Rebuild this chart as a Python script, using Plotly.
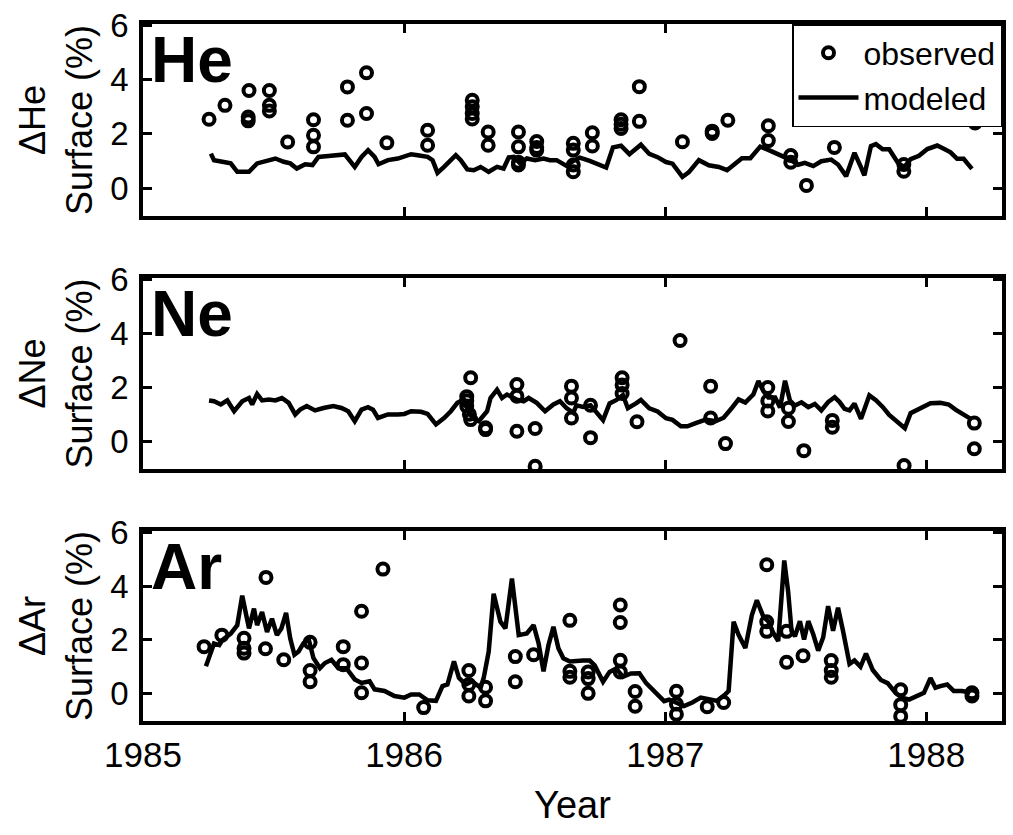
import plotly.graph_objects as go
from plotly.subplots import make_subplots

# ---------------- data ----------------
he_obs_year = [1985.253, 1985.314, 1985.406, 1985.403, 1985.403, 1985.484, 1985.484, 1985.484,
               1985.554, 1985.653, 1985.653, 1985.653, 1985.783, 1985.783, 1985.856, 1985.856,
               1985.934, 1986.090, 1986.090, 1986.261, 1986.261, 1986.261, 1986.261, 1986.322,
               1986.322, 1986.438, 1986.438, 1986.438, 1986.438, 1986.508, 1986.508, 1986.508,
               1986.648, 1986.648, 1986.648, 1986.648, 1986.721, 1986.721, 1986.831, 1986.831,
               1986.831, 1986.901, 1986.901, 1987.066, 1987.180, 1987.180, 1987.240, 1987.395,
               1987.395, 1987.481, 1987.481, 1987.541, 1987.648, 1987.914, 1987.914, 1988.187]
he_obs_val = [2.54, 3.05, 3.60, 2.62, 2.48, 3.60, 3.05, 2.84,
              1.70, 2.52, 1.95, 1.52, 3.73, 2.50, 4.25, 2.75,
              1.67, 2.13, 1.58, 3.24, 3.00, 2.75, 2.55, 2.07,
              1.58, 2.07, 1.52, 0.95, 0.85, 1.72, 1.50, 1.40,
              1.65, 1.40, 0.85, 0.60, 2.04, 1.55, 2.52, 2.35,
              2.20, 3.74, 2.46, 1.71, 2.10, 2.01, 2.50, 2.30,
              1.75, 1.20, 0.95, 0.10, 1.50, 0.87, 0.62, 2.40]

he_mod_year = [1985.260, 1985.272, 1985.304, 1985.336, 1985.361, 1985.406, 1985.437, 1985.463,
               1985.482, 1985.507, 1985.539, 1985.564, 1985.589, 1985.621, 1985.649, 1985.672,
               1985.710, 1985.748, 1985.773, 1985.811, 1985.837, 1985.862, 1985.887, 1985.902,
               1985.938, 1985.976, 1986.001, 1986.027, 1986.052, 1986.090, 1986.109, 1986.128,
               1986.153, 1986.179, 1986.198, 1986.217, 1986.242, 1986.267, 1986.293, 1986.324,
               1986.356, 1986.381, 1986.401, 1986.420, 1986.445, 1986.470, 1986.502, 1986.534,
               1986.559, 1986.584, 1986.622, 1986.648, 1986.673, 1986.711, 1986.743, 1986.774,
               1986.800, 1986.831, 1986.863, 1986.907, 1986.939, 1986.971, 1987.003, 1987.028,
               1987.066, 1987.091, 1987.129, 1987.167, 1987.205, 1987.237, 1987.269, 1987.294,
               1987.326, 1987.364, 1987.395, 1987.421, 1987.446, 1987.478, 1987.509, 1987.535,
               1987.567, 1987.598, 1987.636, 1987.662, 1987.693, 1987.725, 1987.748, 1987.763,
               1987.788, 1987.807, 1987.833, 1987.858, 1987.890, 1987.915, 1987.940, 1987.972,
               1988.004, 1988.042, 1988.067, 1988.093, 1988.118, 1988.143, 1988.175]
he_mod_val = [1.27, 1.03, 0.97, 0.91, 0.60, 0.60, 0.91, 0.97,
              1.03, 1.09, 0.97, 0.91, 0.72, 0.88, 0.85, 1.15,
              1.18, 1.21, 1.24, 0.78, 1.15, 1.40, 1.15, 0.88,
              1.03, 1.09, 1.18, 1.25, 1.21, 1.15, 1.03, 0.56,
              0.78, 1.03, 1.21, 1.03, 0.69, 0.66, 0.78, 0.60,
              0.78, 0.72, 1.13, 1.15, 0.91, 1.09, 1.03, 1.09,
              1.03, 1.03, 0.82, 1.00, 1.12, 1.00, 0.88, 0.76,
              1.50, 1.56, 1.25, 1.60, 1.26, 1.14, 0.96, 0.90,
              0.41, 0.59, 1.03, 0.84, 0.78, 0.66, 0.91, 1.10,
              1.10, 1.53, 1.41, 1.29, 1.17, 1.05, 0.86, 0.93,
              0.81, 0.99, 1.05, 0.87, 0.44, 1.30, 0.81, 0.47,
              1.55, 1.62, 1.43, 1.43, 0.95, 0.76, 1.07, 1.19,
              1.44, 1.57, 1.45, 1.32, 1.08, 1.08, 0.71]

ne_obs_year = [1986.255, 1986.240, 1986.240, 1986.240, 1986.250, 1986.255, 1986.312, 1986.312,
               1986.432, 1986.432, 1986.432, 1986.502, 1986.502, 1986.641, 1986.641, 1986.641,
               1986.714, 1986.714, 1986.835, 1986.835, 1986.835, 1986.892, 1987.057, 1987.174,
               1987.174, 1987.231, 1987.393, 1987.393, 1987.393, 1987.472, 1987.472, 1987.531,
               1987.640, 1987.640, 1987.915, 1988.184, 1988.184]
ne_obs_val = [2.35, 1.65, 1.50, 1.30, 1.00, 0.80, 0.50, 0.43,
              2.10, 1.67, 0.37, 0.47, -0.93, 2.04, 1.60, 0.86,
              1.33, 0.13, 2.35, 2.08, 1.77, 0.72, 3.73, 2.04,
              0.86, -0.09, 1.99, 1.49, 1.12, 1.22, 0.73, -0.35,
              0.77, 0.52, -0.90, 0.67, -0.28]

ne_mod_year = [1985.253, 1985.272, 1985.298, 1985.323, 1985.349, 1985.380, 1985.406, 1985.418,
               1985.437, 1985.456, 1985.482, 1985.507, 1985.532, 1985.558, 1985.583, 1985.602,
               1985.627, 1985.659, 1985.691, 1985.729, 1985.760, 1985.786, 1985.811, 1985.837,
               1985.862, 1985.881, 1985.900, 1985.938, 1985.976, 1986.001, 1986.027, 1986.065,
               1986.090, 1986.122, 1986.153, 1986.179, 1986.204, 1986.229, 1986.261, 1986.286,
               1986.318, 1986.331, 1986.356, 1986.375, 1986.394, 1986.432, 1986.458, 1986.477,
               1986.508, 1986.540, 1986.572, 1986.597, 1986.622, 1986.648, 1986.660, 1986.686,
               1986.714, 1986.736, 1986.762, 1986.787, 1986.812, 1986.838, 1986.857, 1986.888,
               1986.907, 1986.939, 1986.971, 1987.003, 1987.028, 1987.060, 1987.085, 1987.117,
               1987.155, 1987.193, 1987.224, 1987.256, 1987.281, 1987.307, 1987.338, 1987.357,
               1987.376, 1987.395, 1987.421, 1987.440, 1987.459, 1987.478, 1987.497, 1987.522,
               1987.548, 1987.573, 1987.598, 1987.624, 1987.649, 1987.668, 1987.687, 1987.706,
               1987.725, 1987.750, 1987.782, 1987.807, 1987.833, 1987.858, 1987.890, 1987.918,
               1987.940, 1987.978, 1988.016, 1988.054, 1988.086, 1988.112, 1988.137, 1988.156,
               1988.175]
ne_mod_val = [1.51, 1.48, 1.36, 1.51, 1.11, 1.48, 1.60, 1.36,
              1.75, 1.51, 1.54, 1.51, 1.60, 1.42, 0.99, 1.17,
              1.30, 1.14, 1.23, 1.30, 1.23, 1.11, 0.74, 1.17,
              1.26, 1.17, 0.86, 0.99, 0.99, 1.01, 1.11, 1.09,
              1.01, 0.62, 0.86, 1.11, 1.42, 1.54, 0.86, 0.74,
              1.11, 1.60, 1.91, 1.60, 1.73, 1.54, 1.48, 1.60,
              1.42, 1.11, 1.36, 1.48, 1.23, 1.05, 1.33, 1.27,
              1.33, 1.08, 0.78, 1.40, 1.52, 1.71, 1.22, 1.40,
              1.53, 1.22, 1.10, 0.85, 0.79, 0.55, 0.55, 0.67,
              0.80, 0.74, 0.87, 1.24, 1.55, 1.43, 1.74, 2.23,
              1.86, 1.62, 1.62, 1.25, 2.24, 1.50, 1.32, 1.44,
              1.26, 1.38, 1.14, 1.45, 1.63, 1.45, 1.20, 1.14,
              1.39, 0.83, 1.70, 1.52, 1.27, 0.97, 0.72, 0.48,
              1.04, 1.23, 1.41, 1.42, 1.36, 1.17, 1.04, 0.92,
              0.80]

ar_obs_year = [1985.234, 1985.302, 1985.387, 1985.387, 1985.387, 1985.471, 1985.469, 1985.539,
               1985.640, 1985.640, 1985.640, 1985.767, 1985.767, 1985.837, 1985.837, 1985.837,
               1985.919, 1986.075, 1986.248, 1986.248, 1986.248, 1986.312, 1986.312, 1986.426,
               1986.426, 1986.496, 1986.635, 1986.635, 1986.635, 1986.705, 1986.705, 1986.705,
               1986.828, 1986.828, 1986.828, 1986.828, 1986.885, 1986.885, 1987.043, 1987.043,
               1987.043, 1987.161, 1987.224, 1987.389, 1987.389, 1987.389, 1987.465, 1987.465,
               1987.528, 1987.636, 1987.636, 1987.636, 1987.902, 1987.902, 1987.902, 1988.175,
               1988.175]
ar_obs_val = [1.74, 2.17, 2.05, 1.68, 1.50, 4.32, 1.66, 1.25,
              1.90, 0.85, 0.43, 1.74, 1.07, 3.06, 1.13, 0.02,
              4.63, -0.53, 0.85, 0.33, -0.10, 0.23, -0.28, 1.37,
              0.43, 1.44, 2.72, 0.82, 0.60, 0.80, 0.55, 0.00,
              3.29, 2.64, 1.23, 0.80, 0.07, -0.48, 0.08, -0.40,
              -0.78, -0.50, -0.34, 4.79, 2.67, 2.31, 2.31, 1.16,
              1.40, 1.22, 0.85, 0.60, 0.13, -0.42, -0.85, 0.02,
              -0.10]

ar_mod_year = [1985.241, 1985.260, 1985.272, 1985.292, 1985.304, 1985.336, 1985.361, 1985.380,
               1985.393, 1985.406, 1985.425, 1985.437, 1985.456, 1985.475, 1985.494, 1985.513,
               1985.530, 1985.548, 1985.564, 1985.580, 1985.596, 1985.615, 1985.634, 1985.653,
               1985.678, 1985.697, 1985.722, 1985.748, 1985.779, 1985.811, 1985.837, 1985.868,
               1985.887, 1985.925, 1985.963, 1986.001, 1986.027, 1986.058, 1986.090, 1986.122,
               1986.147, 1986.166, 1986.191, 1986.210, 1986.236, 1986.261, 1986.293, 1986.305,
               1986.324, 1986.343, 1986.369, 1986.388, 1986.413, 1986.439, 1986.470, 1986.496,
               1986.515, 1986.534, 1986.553, 1986.572, 1986.591, 1986.610, 1986.635, 1986.660,
               1986.686, 1986.711, 1986.730, 1986.762, 1986.787, 1986.812, 1986.838, 1986.869,
               1986.901, 1986.927, 1986.965, 1986.996, 1987.015, 1987.041, 1987.072, 1987.104,
               1987.136, 1987.167, 1987.199, 1987.231, 1987.243, 1987.262, 1987.281, 1987.307,
               1987.332, 1987.351, 1987.376, 1987.395, 1987.414, 1987.433, 1987.456, 1987.471,
               1987.484, 1987.497, 1987.516, 1987.532, 1987.548, 1987.567, 1987.586, 1987.605,
               1987.624, 1987.643, 1987.662, 1987.681, 1987.706, 1987.725, 1987.748, 1987.769,
               1987.795, 1987.826, 1987.852, 1987.883, 1987.909, 1987.934, 1987.966, 1987.991,
               1988.016, 1988.035, 1988.054, 1988.080, 1988.105, 1988.137, 1988.169]
ar_mod_val = [1.01, 1.55, 1.86, 1.80, 1.99, 2.23, 2.54, 3.64,
              3.03, 2.42, 3.16, 2.54, 3.03, 2.29, 2.78, 2.17,
              2.42, 3.00, 2.04, 1.44, 1.56, 1.87, 2.04, 1.31,
              0.94, 1.13, 1.25, 0.94, 0.94, 0.52, 0.39, 0.45,
              0.15, 0.09, -0.10, -0.16, -0.04, -0.04, -0.26, -0.28,
              0.27, 0.33, 1.19, 0.58, 0.33, 0.45, 0.21, 0.58,
              1.55, 3.71, 2.67, 2.42, 4.28, 2.17, 2.23, 2.54,
              1.87, 0.82, 1.80, 2.48, 1.68, 1.31, 1.19, 1.22,
              1.22, 1.22, 1.04, 0.43, 0.80, 0.92, 0.62, 0.74,
              0.75, 0.38, 0.01, -0.29, -0.23, -0.35, -0.47, -0.34,
              -0.16, -0.22, -0.28, -0.03, 0.09, 2.67, 2.18, 1.69,
              2.92, 3.47, 2.86, 2.68, 2.25, 1.95, 4.95, 3.79,
              2.32, 2.13, 2.69, 2.01, 2.69, 2.20, 1.59, 2.08,
              3.25, 2.33, 3.19, 2.33, 1.10, 1.23, 0.99, 1.48,
              0.87, 0.50, 0.38, 0.01, -0.17, -0.23, -0.11, 0.02,
              0.57, 0.21, 0.27, 0.33, 0.09, 0.09, 0.03]

panel_labels = ["He", "Ne", "Ar"]
y_titles = ["\u0394He<br>Surface (%)", "\u0394Ne<br>Surface (%)", "\u0394Ar<br>Surface (%)"]
x_tick_vals = [1985, 1986, 1987, 1988]
x_tick_text = ["1985", "1986", "1987", "1988"]
y_tick_vals = [0, 2, 4, 6]
x_range = [1985.0, 1988.29]
y_range = [-1.03, 6.05]

# ---------------- figure ----------------
FONT = "Liberation Sans, Arial, sans-serif"

fig = make_subplots(rows=3, cols=1)

series = [(he_obs_year, he_obs_val, he_mod_year, he_mod_val),
          (ne_obs_year, ne_obs_val, ne_mod_year, ne_mod_val),
          (ar_obs_year, ar_obs_val, ar_mod_year, ar_mod_val)]

for i, (oy, ov, my, mv) in enumerate(series):
    row = i + 1
    fig.add_trace(go.Scatter(x=my, y=mv, mode="lines", name="modeled",
                             line=dict(color="black", width=4.5),
                             showlegend=(i == 0), legendrank=2), row=row, col=1)
    fig.add_trace(go.Scatter(x=oy, y=ov, mode="markers", name="observed",
                             marker=dict(symbol="circle-open", size=11, color="black",
                                         line=dict(width=4, color="black")),
                             showlegend=(i == 0), legendrank=1), row=row, col=1)

domains = [[0.7245, 1.0], [0.3616, 0.6356], [0.0, 0.2726]]
axis_common = dict(showline=True, linewidth=3.5, linecolor="black", mirror="ticks",
                   ticks="inside", ticklen=9, tickwidth=3, tickcolor="black",
                   showgrid=False, zeroline=False)

for i in range(3):
    row = i + 1
    fig.update_yaxes(range=y_range, tickvals=y_tick_vals, domain=domains[i],
                     tickfont=dict(family=FONT, size=33, color="black"),
                     title=dict(text=y_titles[i], font=dict(family=FONT, size=36, color="black"),
                                standoff=8),
                     ticklabelstandoff=4,
                     **axis_common, row=row, col=1)
    fig.update_xaxes(range=x_range, tickvals=x_tick_vals, ticktext=x_tick_text,
                     showticklabels=(i == 2),
                     tickfont=dict(family=FONT, size=35, color="black"),
                     ticklabelstandoff=0,
                     **axis_common, row=row, col=1)
    yref = "y domain" if i == 0 else f"y{row} domain"
    xref = "x domain" if i == 0 else f"x{row} domain"
    fig.add_annotation(text="<b>%s</b>" % panel_labels[i], xref=xref, yref=yref,
                       x=0.0, y=1.0, xanchor="left", yanchor="top", showarrow=False,
                       xshift=6, yshift=2,
                       font=dict(family=FONT, size=64, color="black"))

fig.update_xaxes(title=dict(text="Year", font=dict(family=FONT, size=38, color="black"),
                            standoff=20), row=3, col=1)

fig.update_layout(
    width=1013, height=835,
    margin=dict(l=143, r=7, t=24, b=114),
    paper_bgcolor="white", plot_bgcolor="white",
    font=dict(family=FONT, color="black"),
    legend=dict(x=1.0, y=1.0, xref="paper", yref="paper", xanchor="right", yanchor="top",
                bgcolor="white", bordercolor="black", borderwidth=1.5,
                font=dict(family=FONT, size=32, color="black"),
                itemwidth=60, tracegroupgap=0),
)

fig.write_html("out.html")
